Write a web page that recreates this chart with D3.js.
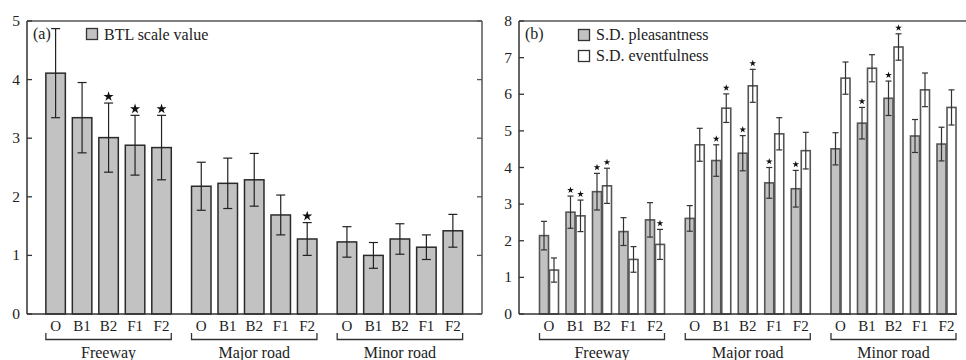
<!DOCTYPE html>
<html><head><meta charset="utf-8">
<script src="https://cdn.jsdelivr.net/npm/d3@7/dist/d3.min.js"></script>
<style>body{margin:0;background:#fff}svg{display:block}text{font-family:"Liberation Serif","Times New Roman",serif;fill:#222}</style>
</head><body><svg id="c" width="966" height="360"></svg>
<script>
const groups = ["Freeway","Major road","Minor road"];
const conditions = ["O","B1","B2","F1","F2"];
const btlTicks = [0,1,2,3,4,5];
const sdTicks = [0,1,2,3,4,5,6,7,8];

const btlValues = [4.11,3.35,3.01,2.88,2.84, 2.18,2.23,2.29,1.69,1.28, 1.23,1.00,1.28,1.14,1.42];
const btlErrors = [0.76,0.60,0.59,0.51,0.55, 0.41,0.43,0.45,0.34,0.28, 0.26,0.22,0.26,0.21,0.28];
const btlStars  = [0,0,1,1,1, 0,0,0,0,1, 0,0,0,0,0];

const pleasValues = [2.14,2.78,3.34,2.25,2.57, 2.61,4.19,4.39,3.58,3.42, 4.51,5.21,5.89,4.86,4.64];
const pleasErrors = [0.39,0.44,0.50,0.38,0.47, 0.35,0.43,0.48,0.42,0.50, 0.44,0.43,0.47,0.45,0.46];
const pleasStars  = [0,1,1,0,0, 0,1,1,1,1, 0,1,1,0,0];
const eventValues = [1.20,2.68,3.50,1.49,1.90, 4.62,5.62,6.23,4.92,4.46, 6.44,6.71,7.29,6.12,5.64];
const eventErrors = [0.33,0.43,0.48,0.35,0.41, 0.45,0.39,0.45,0.44,0.50, 0.44,0.37,0.36,0.46,0.48];
const eventStars  = [0,1,1,0,1, 0,1,1,0,0, 0,0,1,0,0];

const svg = d3.select("#c");
const slot = k => Math.floor(k/5)*5.5 + (k%5);
const GRAY = "#c2c2c2";

function frame(g, x0, x1, xb, y, ticks, right) {
  const yt = y.range()[1], yb = y.range()[0];
  g.append("line").attr("x1",x0).attr("x2",x1).attr("y1",yt).attr("y2",yt).attr("stroke","#555").attr("stroke-width",1.5);
  g.append("line").attr("x1",x0).attr("x2",xb).attr("y1",yb).attr("y2",yb).attr("stroke","#333").attr("stroke-width",1.5);
  g.append("line").attr("x1",x0).attr("x2",x0).attr("y1",yt).attr("y2",yb).attr("stroke","#333").attr("stroke-width",1.5);
  if (right) g.append("line").attr("x1",x1).attr("x2",x1).attr("y1",yt).attr("y2",yb).attr("stroke","#555").attr("stroke-width",1.5);
  ticks.forEach(t => {
    g.append("line").attr("x1",x0).attr("x2",x0+5).attr("y1",y(t)).attr("y2",y(t)).attr("stroke","#333").attr("stroke-width",1.3);
    if (right) g.append("line").attr("x1",x1-5).attr("x2",x1).attr("y1",y(t)).attr("y2",y(t)).attr("stroke","#555").attr("stroke-width",1.3);
    g.append("text").attr("x",x0-7).attr("y",y(t)+5).attr("text-anchor","end").attr("font-size",15.5).text(t);
  });
}

function xlabels(g, x, halfW) {
  d3.range(15).forEach(k => {
    g.append("text").attr("x",x(slot(k))).attr("y",331).attr("text-anchor","middle").attr("font-size",15).text(conditions[k%5]);
  });
  groups.forEach((name,gi) => {
    const a = x(slot(gi*5)) - halfW, b = x(slot(gi*5+4)) + halfW;
    g.append("path").attr("d",`M${a},333V339.5H${b}V333`).attr("fill","none").attr("stroke","#333").attr("stroke-width",1.3);
    g.append("text").attr("x",(a+b)/2).attr("y",358).attr("text-anchor","middle").attr("font-size",16).text(name);
  });
}

function errbar(g, cx, y, v, e, cap, color, sw) {
  g.append("line").attr("x1",cx).attr("x2",cx).attr("y1",y(v+e)).attr("y2",y(v-e)).attr("stroke",color).attr("stroke-width",sw);
  [v+e, v-e].forEach(t => g.append("line").attr("x1",cx-cap/2).attr("x2",cx+cap/2).attr("y1",y(t)).attr("y2",y(t)).attr("stroke",color).attr("stroke-width",sw));
}
function star(g, cx, cy, size) {
  g.append("path").attr("d", d3.symbol(d3.symbolStar, size)()).attr("transform",`translate(${cx},${cy})`).attr("fill","#111");
}

// Panel (a)
{
  const g = svg.append("g");
  const x = d3.scaleLinear().domain([-1.08,16.1]).range([27,482]);
  const y = d3.scaleLinear().domain([0,5]).range([314,21]);
  const bw = 19.5;
  d3.range(15).forEach(k => {
    const cx = x(slot(k));
    g.append("rect").attr("x",cx-bw/2).attr("y",y(btlValues[k])).attr("width",bw).attr("height",y(0)-y(btlValues[k]))
      .attr("fill",GRAY).attr("stroke","#2a2a2a").attr("stroke-width",1.5);
  });
  d3.range(15).forEach(k => {
    const cx = x(slot(k));
    errbar(g, cx, y, btlValues[k], btlErrors[k], 9, "#222", 1.2);
    if (btlStars[k]) star(g, cx, y(btlValues[k]+btlErrors[k])-6.5, 32);
  });
  frame(g, 27, 482, 482, y, btlTicks, true);
  xlabels(g, x, bw/2);
  g.append("text").attr("x",33).attr("y",39).attr("font-size",16).text("(a)");
  g.append("rect").attr("x",86.5).attr("y",28.5).attr("width",11).attr("height",11).attr("fill",GRAY).attr("stroke","#333").attr("stroke-width",1.3);
  g.append("text").attr("x",104).attr("y",39.5).attr("font-size",16).text("BTL scale value");
}

// Panel (b)
{
  const g = svg.append("g");
  const x = d3.scaleLinear().domain([-1.132,16.113]).range([519,976]);
  const y = d3.scaleLinear().domain([0,8]).range([314,21]);
  const bw = 9, off = 5;
  const series = [
    {vals:pleasValues, errs:pleasErrors, stars:pleasStars, fill:GRAY, dx:-off},
    {vals:eventValues, errs:eventErrors, stars:eventStars, fill:"#fff", dx:off}
  ];
  series.forEach(s => d3.range(15).forEach(k => {
    const cx = x(slot(k)) + s.dx;
    g.append("rect").attr("x",cx-bw/2).attr("y",y(s.vals[k])).attr("width",bw).attr("height",y(0)-y(s.vals[k]))
      .attr("fill",s.fill).attr("stroke","#555").attr("stroke-width",1.6);
  }));
  series.forEach(s => d3.range(15).forEach(k => {
    const cx = x(slot(k)) + s.dx;
    errbar(g, cx, y, s.vals[k], s.errs[k], 6, "#333", 1.2);
    if (s.stars[k]) star(g, cx, y(s.vals[k]+s.errs[k])-6, 14);
  }));
  frame(g, 519, 976, 957, y, sdTicks, false);
  xlabels(g, x, off+bw/2);
  g.append("text").attr("x",525).attr("y",39).attr("font-size",16).text("(b)");
  g.append("rect").attr("x",578.5).attr("y",29.5).attr("width",11).attr("height",11).attr("fill",GRAY).attr("stroke","#333").attr("stroke-width",1.3);
  g.append("text").attr("x",596).attr("y",40).attr("font-size",16).text("S.D. pleasantness");
  g.append("rect").attr("x",578.5).attr("y",50.5).attr("width",11).attr("height",11).attr("fill","#fff").attr("stroke","#333").attr("stroke-width",1.3);
  g.append("text").attr("x",596).attr("y",61).attr("font-size",16).text("S.D. eventfulness");
}
</script></body></html>
